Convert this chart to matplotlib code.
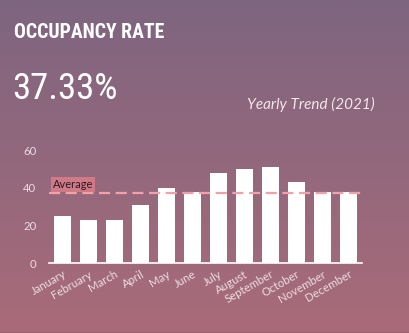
import numpy as np
import matplotlib
matplotlib.use("Agg")
import matplotlib.pyplot as plt
from matplotlib import font_manager as fm
from matplotlib.colors import LinearSegmentedColormap

months = ["January", "February", "March", "April", "May", "June", "July",
          "August", "September", "October", "November", "December"]
occupancy = [25, 23, 23, 31, 40, 38, 48, 50, 51, 43, 38, 38]
average = 37.33
yticks = [0, 20, 40, 60]
title = "OCCUPANCY RATE"
kpi = "37.33%"
subtitle = "Yearly Trend (2021)"

names = {f.name for f in fm.fontManager.ttflist}
def pick(*cands):
    for c in cands:
        if c in names:
            return c
    return "DejaVu Sans"

cond = pick("Liberation Sans Narrow", "Roboto Condensed", "Roboto", "DejaVu Sans")
body = pick("Lato", "Open Sans", "DejaVu Sans")

fig = plt.figure(figsize=(4.10, 3.33), dpi=100)

bg = fig.add_axes([0, 0, 1, 1], zorder=-10)
cmap = LinearSegmentedColormap.from_list("bg", ["#7e6580", "#a96b79"])
bg.imshow(np.linspace(0, 1, 256).reshape(-1, 1), aspect="auto", cmap=cmap,
          extent=[0, 1, 0, 1], origin="upper")
bg.axhline(0.0015, color="#9a5f6c", lw=1.2)
bg.set_axis_off()

fig.text(14 / 410, 1 - 33 / 333, title, color="white", fontsize=14.2,
         fontweight="bold", family=cond, va="center", ha="left")
fig.text(12 / 410, 1 - 89 / 333, kpi, color="white", fontsize=26.5,
         family=cond, va="center", ha="left")
fig.text(375 / 410, 1 - 104 / 333, subtitle, color="#f2e6ea", fontsize=11,
         style="italic", family=body, va="center", ha="right")

ax = fig.add_axes([49 / 410, 1 - 263 / 333, 313 / 410, 112.5 / 333])
ax.set_facecolor("none")
x = np.arange(len(months))
ax.bar(x, occupancy, width=0.65, color="white", zorder=2)
ax.axhline(average, color="#f4a0a8", lw=1.6, ls=(0, (5, 2.5)), zorder=3)
ax.text(0.012, average + 1.6, "Average", transform=ax.get_yaxis_transform(),
        fontsize=8, color="#2a1a20", family=body, va="bottom", ha="left",
        bbox=dict(boxstyle="square,pad=0.2", fc="#d07a88", ec="none"))
ax.set_xlim(-0.52, 11.52)
ax.set_ylim(0, 60)
ax.set_yticks(yticks)
ax.set_xticks(x)
ax.set_xticklabels(months, rotation=30, ha="right", rotation_mode="anchor")
for s in ["top", "right", "left"]:
    ax.spines[s].set_visible(False)
ax.spines["bottom"].set_color("white")
ax.spines["bottom"].set_linewidth(1.2)
ax.tick_params(axis="both", length=0, colors="#ecdde2", labelsize=8.2)
ax.tick_params(axis="y", pad=9)
ax.tick_params(axis="x", pad=4)
for lab in ax.get_xticklabels() + ax.get_yticklabels():
    lab.set_family(body)

fig.savefig("out.png", dpi=100)
